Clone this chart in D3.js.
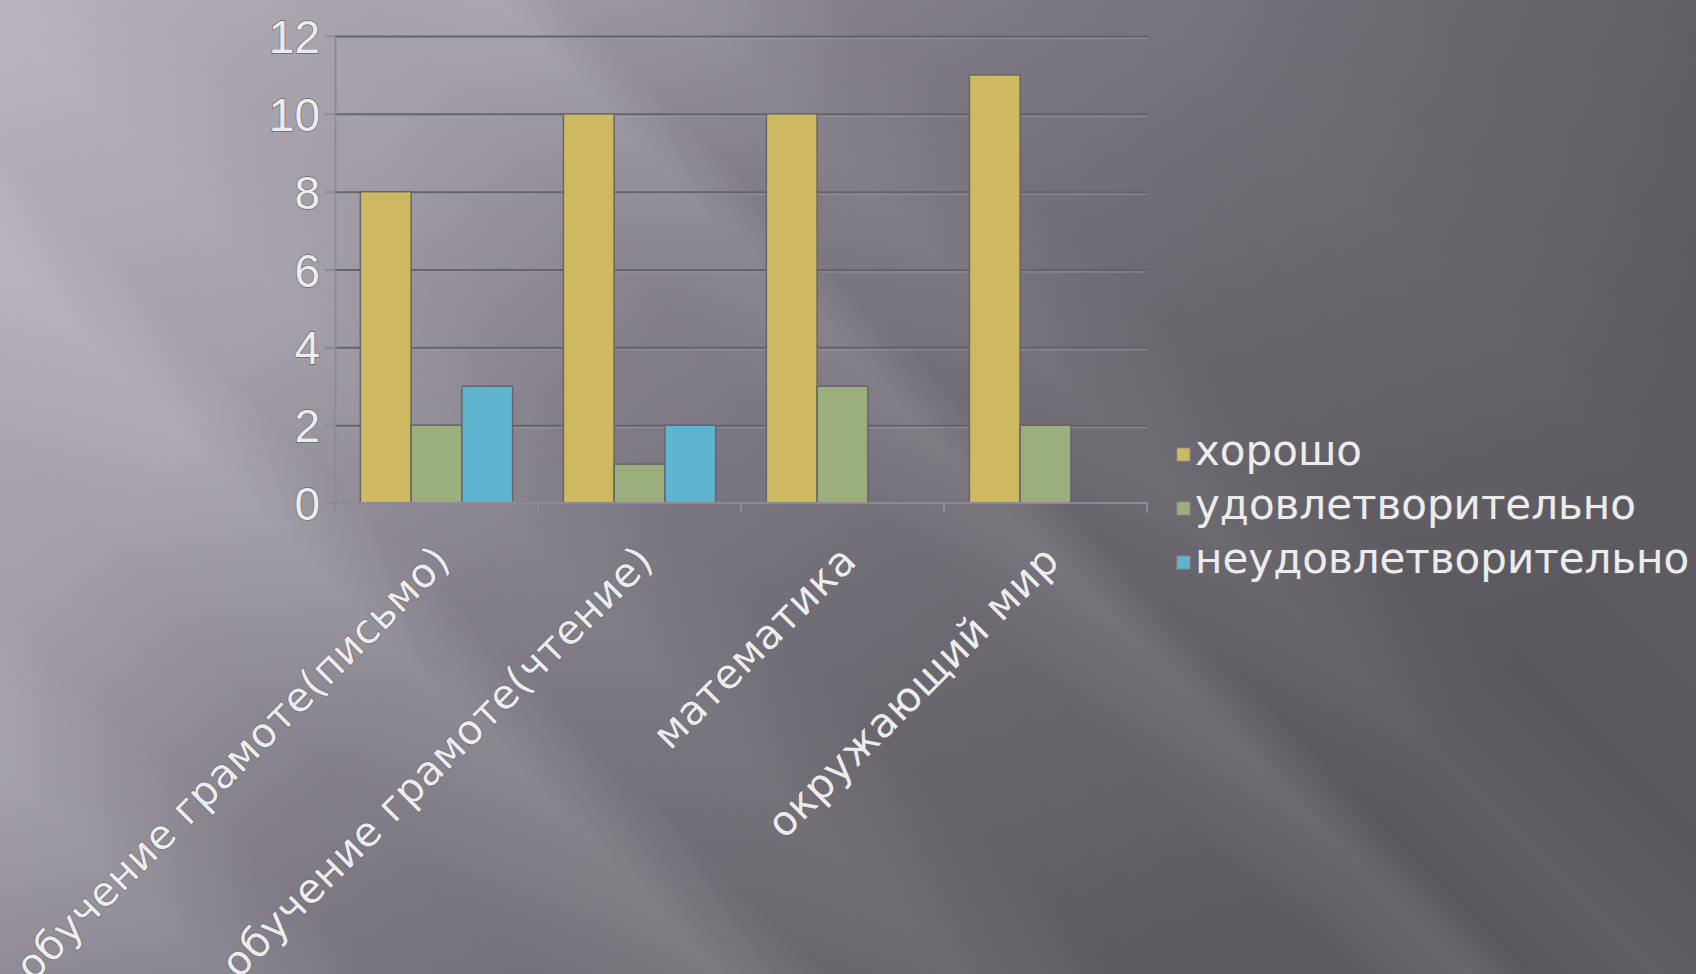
<!DOCTYPE html>
<html>
<head>
<meta charset="utf-8">
<script src="https://cdn.jsdelivr.net/npm/d3@7"></script>
<style>
  html, body { margin: 0; padding: 0; overflow: hidden; background: #6b676f; }
  .lbl { fill: #ececec; stroke: #6a6670; stroke-width: 1.3px; paint-order: stroke fill; }
</style>
</head>
<body>
<div id="chart"></div>
<script>
// data
var categories = ["обучение грамоте(письмо)", "обучение грамоте(чтение)", "математика", "окружающий мир"];
var seriesNames = ["хорошо", "удовлетворительно", "неудовлетворительно"];
var good = [8, 10, 10, 11];
var satisfactory = [2, 1, 3, 2];
var unsatisfactory = [3, 2, null, null];
var yTicks = [0, 2, 4, 6, 8, 10, 12];

var seriesValues = [good, satisfactory, unsatisfactory];
var colors = ["#cdb95f", "#9baf7d", "#5fb5d0"];

// dimensions
var containerWidth = 1696,
    containerHeight = 974,
    plot = { top: 36, right: 1147, bottom: 503, left: 335 };

var svg = d3.select("#chart")
    .append("svg")
    .attr("width", containerWidth)
    .attr("height", containerHeight);

var defs = svg.append("defs");

// background: dark gray with light diagonal streaks
var bg = defs.append("linearGradient")
    .attr("id", "bg")
    .attr("gradientUnits", "userSpaceOnUse")
    .attr("x1", 0).attr("y1", 0).attr("x2", 1300).attr("y2", 950);
[[0, "#b6b0bb"], [0.25, "#a29ca7"], [0.45, "#817c87"], [0.7, "#6b676f"], [1, "#5a565d"]].forEach(function(s) {
    bg.append("stop").attr("offset", s[0]).attr("stop-color", s[1]);
});

var streaks = defs.append("linearGradient")
    .attr("id", "streaks")
    .attr("gradientUnits", "userSpaceOnUse")
    .attr("x1", 0).attr("y1", 974).attr("x2", 1335).attr("y2", -361);
[[0, 0], [0.08, 0.10], [0.14, 0], [0.2, 0.02], [0.27, 0.13], [0.31, 0.02], [0.36, 0.06], [0.42, 0],
 [0.5, 0.02], [0.55, 0.10], [0.575, 0], [0.62, 0.05], [0.68, 0], [0.8, 0.03], [1, 0]].forEach(function(s) {
    streaks.append("stop").attr("offset", s[0]).attr("stop-color", "#ffffff").attr("stop-opacity", s[1]);
});

svg.append("rect").attr("width", containerWidth).attr("height", containerHeight).attr("fill", "url(#bg)");
svg.append("rect").attr("width", containerWidth).attr("height", containerHeight).attr("fill", "url(#streaks)");

// scales
var x = d3.scaleBand()
    .domain(categories)
    .range([plot.left, plot.right]);

var xSub = d3.scaleBand()
    .domain(seriesNames)
    .range([0, x.bandwidth()])
    .paddingOuter(0.5);

var y = d3.scaleLinear()
    .domain([0, 12])
    .range([plot.bottom, plot.top]);

// gridlines (dark line with a light edge under it)
svg.append("g")
    .attr("transform", "translate(" + plot.left + ",0)")
    .call(d3.axisLeft(y).tickValues(yTicks.slice(1)).tickSize(-(plot.right - plot.left)).tickFormat(""))
    .call(function(g) {
        g.select(".domain").remove();
        g.selectAll("line").attr("stroke", "#66636b").attr("stroke-width", 2);
    });
svg.append("g")
    .attr("transform", "translate(" + plot.left + ",2)")
    .call(d3.axisLeft(y).tickValues(yTicks.slice(1)).tickSize(-(plot.right - plot.left)).tickFormat(""))
    .call(function(g) {
        g.select(".domain").remove();
        g.selectAll("line").attr("stroke", "#a19ea6").attr("stroke-width", 1).attr("opacity", 0.7);
    });

// y axis
var yAxis = svg.append("g")
    .attr("transform", "translate(" + plot.left + ",0)")
    .call(d3.axisLeft(y).tickValues(yTicks).tickSize(10).tickPadding(5).tickSizeOuter(0));
yAxis.select(".domain").attr("stroke", "#8d8a93").attr("stroke-width", 2);
yAxis.selectAll(".tick line").attr("stroke", "#8d8a93").attr("stroke-width", 2);
yAxis.selectAll(".tick text")
    .attr("class", "lbl")
    .style("font-family", "'Liberation Sans', Arial, sans-serif")
    .style("font-size", "46px")
    .attr("dy", "0.36em");

// bars
var groups = svg.append("g")
    .selectAll("g")
    .data(categories)
    .join("g")
    .attr("transform", function(d) { return "translate(" + x(d) + ",0)"; });

groups.selectAll("rect")
    .data(function(d, i) {
        return seriesNames.map(function(s, j) { return { series: s, j: j, value: seriesValues[j][i] }; })
            .filter(function(e) { return e.value != null; });
    })
    .join("rect")
    .attr("x", function(d) { return xSub(d.series); })
    .attr("y", function(d) { return y(d.value); })
    .attr("width", xSub.bandwidth())
    .attr("height", function(d) { return y(0) - y(d.value); })
    .attr("fill", function(d) { return colors[d.j]; })
    .attr("stroke", "#67646c")
    .attr("stroke-width", 1.5);

// x axis
var xAxis = svg.append("g")
    .attr("transform", "translate(0," + plot.bottom + ")")
    .call(d3.axisBottom(x).tickSize(0).tickFormat(""));
xAxis.select(".domain").attr("stroke", "#8d8a93").attr("stroke-width", 2).attr("d", "M" + (plot.left - 10) + ",0H" + plot.right);
xAxis.selectAll(".bound")
    .data(categories.concat([null]))
    .join("line")
    .attr("class", "bound")
    .attr("x1", function(d) { return d == null ? plot.right : x(d); })
    .attr("x2", function(d) { return d == null ? plot.right : x(d); })
    .attr("y1", 0).attr("y2", 10)
    .attr("stroke", "#8d8a93").attr("stroke-width", 2);

// rotated category labels
svg.append("g")
    .selectAll("text")
    .data(categories)
    .join("text")
    .attr("class", "lbl")
    .attr("text-anchor", "end")
    .style("font-family", "'DejaVu Sans', sans-serif")
    .style("font-size", "41px")
    .style("letter-spacing", "0.5px")
    .attr("transform", function(d) {
        return "translate(" + (x(d) + x.bandwidth() / 2 + 16) + "," + (plot.bottom + 60) + ") rotate(-45)";
    })
    .text(function(d) { return d; });

// legend
var legend = svg.append("g")
    .attr("transform", "translate(1177,465)");

var items = legend.selectAll("g")
    .data(seriesNames)
    .join("g")
    .attr("transform", function(d, i) { return "translate(0," + (i * 54) + ")"; });

items.append("rect")
    .attr("x", 0).attr("y", -17)
    .attr("width", 13).attr("height", 13)
    .attr("fill", function(d, i) { return colors[i]; })
    .attr("stroke", "#8d8a93").attr("stroke-width", 1);

items.append("text")
    .attr("class", "lbl")
    .attr("x", 18)
    .style("font-family", "'DejaVu Sans', sans-serif")
    .style("font-size", "42px")
    .text(function(d) { return d; });
</script>
</body>
</html>
